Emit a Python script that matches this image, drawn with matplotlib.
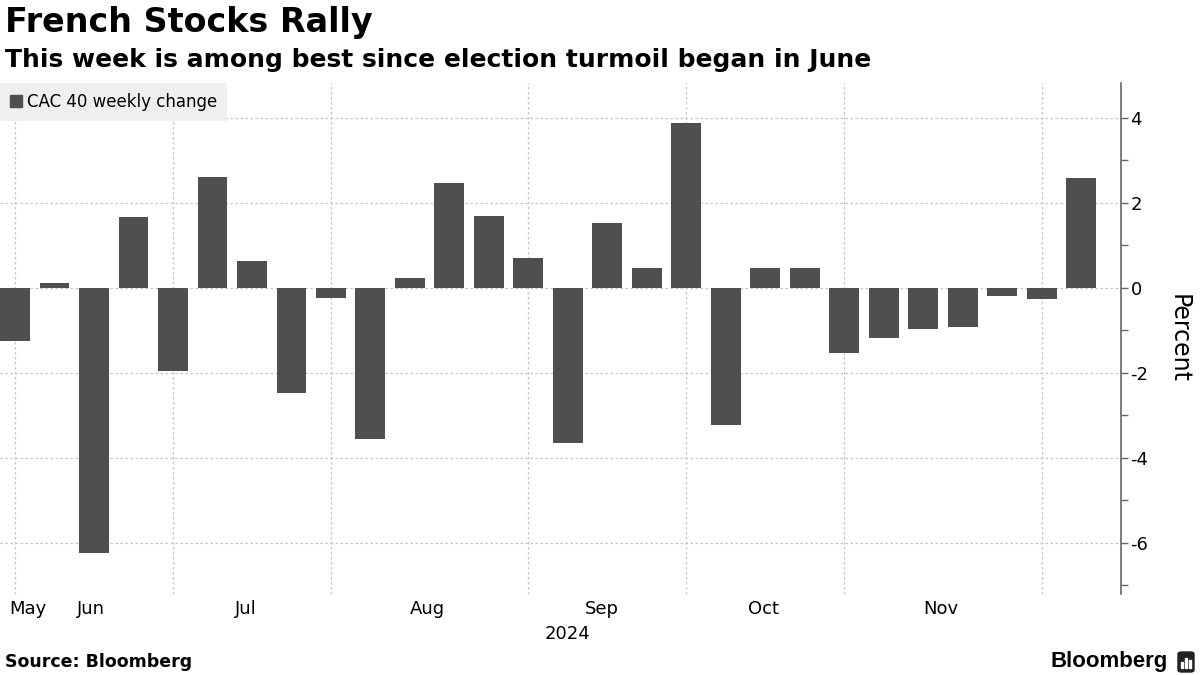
import numpy as np
import pandas as pd
import matplotlib
matplotlib.use("Agg")
import matplotlib.pyplot as plt
from matplotlib.patches import Patch, FancyBboxPatch, Rectangle

plt.rcParams['axes.unicode_minus'] = False

# weekly CAC 40 change, week ending Friday
weeks = ["2024-05-24", "2024-05-31", "2024-06-07", "2024-06-14", "2024-06-21",
         "2024-06-28", "2024-07-05", "2024-07-12", "2024-07-19", "2024-07-26",
         "2024-08-02", "2024-08-09", "2024-08-16", "2024-08-23", "2024-08-30",
         "2024-09-06", "2024-09-13", "2024-09-20", "2024-09-27", "2024-10-04",
         "2024-10-11", "2024-10-18", "2024-10-25", "2024-11-01", "2024-11-08",
         "2024-11-15", "2024-11-22", "2024-11-29"]
change = [-1.26, 0.12, -6.23, 1.67, -1.95, 2.61, 0.64, -2.47, -0.23, -3.55,
          0.24, 2.47, 1.69, 0.71, -3.64, 1.53, 0.47, 3.88, -3.22, 0.47,
          0.47, -1.52, -1.17, -0.96, -0.93, -0.20, -0.27, 2.59]

month_pos = ["2024-05-23", "2024-06-04", "2024-07-02", "2024-08-02",
             "2024-09-02", "2024-10-01", "2024-11-01"]
month_lab = ["May", "Jun", "Jul", "Aug", "Sep", "Oct", "Nov"]
vgrid = ["2024-05-24", "2024-06-21", "2024-07-19", "2024-08-23",
         "2024-09-20", "2024-10-18", "2024-11-22"]

x = pd.to_datetime(weeks)
bar_col = "#4f4f4f"
grid_col = "#c4c4c4"

fig = plt.figure(figsize=(12, 6.75), dpi=100)
ax = fig.add_axes([0, 0.12, 0.934, 0.757])

ax.bar(x, change, width=5.3, color=bar_col, zorder=3)

ax.set_ylim(-7.2, 4.82)
ax.set_xlim(x[0] - pd.Timedelta(days=2.66), x[0] + pd.Timedelta(days=196))

for v in [-6, -4, -2, 0, 2, 4]:
    ax.axhline(v, color=grid_col, lw=0.9, ls=(0, (2, 2)), zorder=1)
for d in pd.to_datetime(vgrid):
    ax.axvline(d, color=grid_col, lw=0.9, ls=(0, (2, 2)), zorder=1)

for s in ["top", "left", "bottom"]:
    ax.spines[s].set_visible(False)
ax.spines["right"].set_color("#666666")
ax.spines["right"].set_linewidth(1.2)

ax.yaxis.tick_right()
ax.yaxis.set_label_position("right")
ax.set_yticks([-6, -4, -2, 0, 2, 4])
ax.set_yticks([-7, -5, -3, -1, 1, 3], minor=True)
ax.tick_params(axis="y", which="both", direction="out", length=5, width=1,
               color="#666666", labelsize=13, pad=2)
ax.set_ylabel("Percent", rotation=270, fontsize=17, labelpad=30)

ax.set_xticks(pd.to_datetime(month_pos))
ax.set_xticklabels(month_lab, ha="left", fontsize=13)
ax.tick_params(axis="x", length=0, pad=4)

leg = ax.legend(handles=[Patch(color=bar_col, label="CAC 40 weekly change")],
                loc="upper left", bbox_to_anchor=(0, 1), borderaxespad=0,
                fontsize=12, frameon=True, fancybox=False,
                handlelength=0.7, handleheight=0.7, handletextpad=0.3,
                borderpad=0.6)
leg.get_frame().set_facecolor("#efefef")
leg.get_frame().set_edgecolor("none")
leg.get_frame().set_alpha(1)
leg.set_zorder(5)

fig.text(0.004, 0.967, "French Stocks Rally", fontsize=24, fontweight="bold",
         va="center", ha="left")
fig.text(0.004, 0.911, "This week is among best since election turmoil began in June",
         fontsize=18, fontweight="bold", va="center", ha="left")
fig.text(568 / 1200, 1 - 634 / 675, "2024", fontsize=13, ha="center", va="center")
fig.text(0.004, 1 - 662 / 675, "Source: Bloomberg", fontsize=12.5,
         fontweight="bold", va="center", ha="left")
fig.text(1168 / 1200, 1 - 661 / 675, "Bloomberg", fontsize=16, fontweight="bold",
         family=["Liberation Sans", "DejaVu Sans"], va="center", ha="right")
fig.patches.append(FancyBboxPatch((1178 / 1200, 1 - 672 / 675), 16 / 1200, 20 / 675,
                                  boxstyle="round,pad=0,rounding_size=0.003",
                                  transform=fig.transFigure, color="#222222"))
for i, h in enumerate([6, 10, 8]):
    fig.patches.append(Rectangle(((1181 + i * 4) / 1200, 1 - 668 / 675), 2 / 1200,
                                 h / 675, transform=fig.transFigure, color="white"))

fig.savefig("out.png", dpi=100)
